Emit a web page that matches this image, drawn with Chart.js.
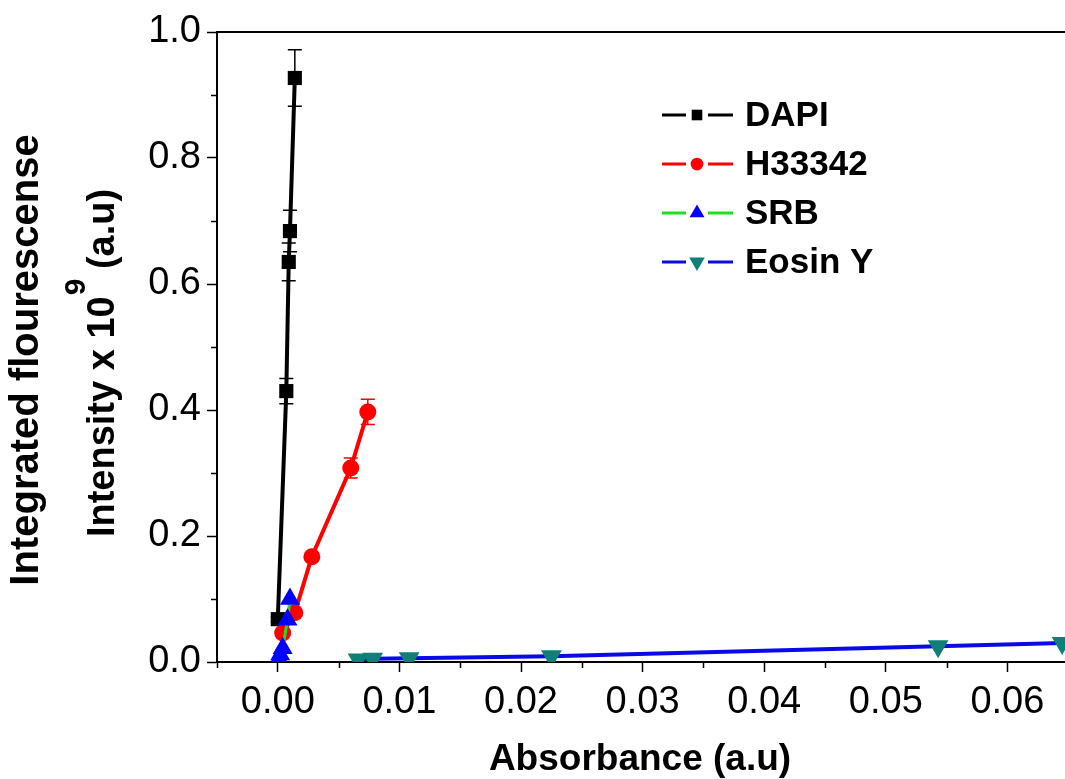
<!DOCTYPE html>
<html>
<head>
<meta charset="utf-8">
<script src="https://cdn.jsdelivr.net/npm/chart.js@4/dist/chart.umd.min.js"></script>
<style>
  html, body { margin: 0; padding: 0; background: #fff; overflow: hidden; }
  #wrap { width: 1180px; height: 779px; }
</style>
</head>
<body>
<div id="wrap"><canvas id="chart"></canvas></div>
<script>
// ---- data ----
const seriesNames = ['DAPI', 'H33342', 'SRB', 'Eosin Y'];

const dapiX = [0.0000, 0.0007, 0.0009, 0.0010, 0.0014];
const dapiY = [0.068, 0.430, 0.635, 0.684, 0.927];
const dapiErr = [0.004, 0.020, 0.030, 0.033, 0.045];

const hoechstX = [0.0004, 0.0014, 0.0028, 0.0060, 0.0074];
const hoechstY = [0.046, 0.078, 0.167, 0.308, 0.397];
const hoechstErr = [0.004, 0.005, 0.006, 0.016, 0.020];

const srbX = [0.0001, 0.0002, 0.0004, 0.0008, 0.0010];
const srbY = [0.005, 0.012, 0.022, 0.067, 0.100];

const eosinX = [0.0066, 0.0078, 0.0108, 0.0225, 0.0543, 0.0645];
const eosinY = [0.004, 0.005, 0.006, 0.009, 0.025, 0.030];

const xTickValues = [0, 0.01, 0.02, 0.03, 0.04, 0.05, 0.06, 0.07];
const yTickValues = [0, 0.2, 0.4, 0.6, 0.8, 1.0];
const xMinorValues = [-0.005, 0.005, 0.015, 0.025, 0.035, 0.045, 0.055, 0.065];
const yMinorValues = [0.1, 0.3, 0.5, 0.7, 0.9];

const FONT = "'Liberation Sans', Arial, sans-serif";

function pts(xs, ys) {
    return xs.map((x, i) => ({ x: x, y: ys[i] }));
}

const datasets = [
    {
        label: seriesNames[0], data: pts(dapiX, dapiY), errors: dapiErr,
        borderColor: '#000', backgroundColor: '#000', borderWidth: 4,
        pointStyle: 'rect', pointRadius: 10, pointBorderWidth: 0, order: 4,
    },
    {
        label: seriesNames[1], data: pts(hoechstX, hoechstY), errors: hoechstErr,
        borderColor: '#ff0000', backgroundColor: '#ff0000', borderWidth: 4,
        pointStyle: 'circle', pointRadius: 8.5, pointBorderWidth: 0, order: 3,
    },
    {
        label: seriesNames[2], data: pts(srbX, srbY),
        borderColor: '#1ee01e', backgroundColor: '#0000ff', borderWidth: 3,
        pointStyle: 'triangle', pointRadius: 11.5, pointBorderWidth: 0, order: 2,
    },
    {
        label: seriesNames[3], data: pts(eosinX, eosinY),
        borderColor: '#0a0ae6', backgroundColor: '#0f7f78', borderWidth: 4,
        pointStyle: 'triangle', pointRotation: 180, pointRadius: 12, pointBorderWidth: 0, order: 1,
    },
];

// error bars under the markers
const errorBars = {
    id: 'errorBars',
    beforeDatasetsDraw(chart) {
        const { ctx, scales: { x, y } } = chart;
        chart.data.datasets.forEach(ds => {
            if (!ds.errors) return;
            ctx.save();
            ctx.strokeStyle = ds.borderColor;
            ctx.lineWidth = 1.5;
            ds.data.forEach((p, i) => {
                const e = ds.errors[i];
                const px = x.getPixelForValue(p.x);
                const top = y.getPixelForValue(p.y + e);
                const bot = y.getPixelForValue(p.y - e);
                ctx.beginPath();
                ctx.moveTo(px, top); ctx.lineTo(px, bot);
                ctx.moveTo(px - 7, top); ctx.lineTo(px + 7, top);
                ctx.moveTo(px - 7, bot); ctx.lineTo(px + 7, bot);
                ctx.stroke();
            });
            ctx.restore();
        });
    }
};

// frame, minor ticks, axis titles and the legend
const decorations = {
    id: 'decorations',
    afterDraw(chart) {
        const { ctx, chartArea: a, scales: { x, y } } = chart;
        ctx.save();
        ctx.strokeStyle = '#000';
        ctx.lineWidth = 2;
        ctx.beginPath();
        ctx.moveTo(a.left, a.top); ctx.lineTo(a.right, a.top); ctx.lineTo(a.right, a.bottom);
        ctx.stroke();

        ctx.lineWidth = 1.5;
        ctx.beginPath();
        xMinorValues.forEach(v => {
            const px = Math.round(x.getPixelForValue(v)) + 0.5;
            ctx.moveTo(px, a.bottom); ctx.lineTo(px, a.bottom + 6);
        });
        yMinorValues.forEach(v => {
            const py = Math.round(y.getPixelForValue(v)) + 0.5;
            ctx.moveTo(a.left, py); ctx.lineTo(a.left - 6, py);
        });
        ctx.stroke();

        // x title
        ctx.fillStyle = '#000';
        ctx.textAlign = 'center';
        ctx.textBaseline = 'middle';
        ctx.font = 'bold 37px ' + FONT;
        ctx.fillText('Absorbance (a.u)', 640, 760);

        // y title, two lines with a superscript
        ctx.save();
        ctx.translate(27, 360);
        ctx.rotate(-Math.PI / 2);
        ctx.font = 'bold 40px ' + FONT;
        ctx.fillText('Integrated flourescense', 0, 0);
        ctx.restore();

        ctx.save();
        ctx.translate(104, 363);
        ctx.rotate(-Math.PI / 2);
        ctx.textAlign = 'left';
        const p1 = 'Intensity x 10', p2 = '9', p3 = ' (a.u)';
        ctx.font = 'bold 38px ' + FONT;
        const w1 = ctx.measureText(p1).width, w3 = ctx.measureText(p3).width;
        ctx.font = 'bold 30px ' + FONT;
        const w2 = ctx.measureText(p2).width;
        let cx = -(w1 + w2 + w3) / 2;
        ctx.font = 'bold 38px ' + FONT;
        ctx.fillText(p1, cx, 0);
        cx += w1;
        ctx.font = 'bold 30px ' + FONT;
        ctx.fillText(p2, cx + 1, -27);
        cx += w2;
        ctx.font = 'bold 38px ' + FONT;
        ctx.fillText(p3, cx, 0);
        ctx.restore();

        // legend
        chart.data.datasets.forEach((ds, i) => {
            const ly = 115 + i * 49;
            ctx.strokeStyle = ds.borderColor;
            ctx.lineWidth = 3;
            ctx.beginPath();
            ctx.moveTo(662, ly); ctx.lineTo(686, ly);
            ctx.moveTo(708, ly); ctx.lineTo(733, ly);
            ctx.stroke();
            ctx.fillStyle = ds.backgroundColor;
            ctx.strokeStyle = ds.backgroundColor;
            Chart.helpers.drawPoint(ctx, {
                pointStyle: ds.pointStyle,
                rotation: ds.pointRotation || 0,
                radius: ds.pointRadius * 0.75,
                borderWidth: 0,
            }, 697, ly);
            ctx.fillStyle = '#000';
            ctx.textAlign = 'left';
            ctx.textBaseline = 'middle';
            ctx.font = 'bold 35px ' + FONT;
            ctx.fillText(ds.label, 745, ly + 1);
        });
        ctx.restore();
    }
};

const tickFont = { family: FONT, size: 38 };

new Chart(document.getElementById('chart'), {
    type: 'line',
    data: { datasets: datasets },
    options: {
        responsive: true,
        maintainAspectRatio: false,
        animation: false,
        layout: { padding: { left: 0, top: 32, right: 51, bottom: 0 } },
        plugins: { legend: { display: false }, tooltip: { enabled: false } },
        elements: { line: { tension: 0 } },
        scales: {
            x: {
                type: 'linear',
                min: -0.005,
                max: 0.07,
                afterBuildTicks: s => { s.ticks = xTickValues.map(v => ({ value: v })); },
                afterFit: s => { s.height = 117; },
                border: { display: true, color: '#000', width: 2 },
                grid: { drawOnChartArea: false, drawTicks: true, tickLength: 10, tickColor: '#000', tickWidth: 1.5 },
                ticks: { color: '#000', font: tickFont, padding: 8, maxRotation: 0, callback: v => v.toFixed(2) },
            },
            y: {
                type: 'linear',
                min: 0,
                max: 1.0,
                afterBuildTicks: s => { s.ticks = yTickValues.map(v => ({ value: v })); },
                afterFit: s => { s.width = 217; },
                border: { display: true, color: '#000', width: 2 },
                grid: { drawOnChartArea: false, drawTicks: true, tickLength: 10, tickColor: '#000', tickWidth: 1.5 },
                ticks: { color: '#000', font: tickFont, padding: 6, callback: v => v.toFixed(1) },
            },
        },
    },
    plugins: [errorBars, decorations],
});
</script>
</body>
</html>
